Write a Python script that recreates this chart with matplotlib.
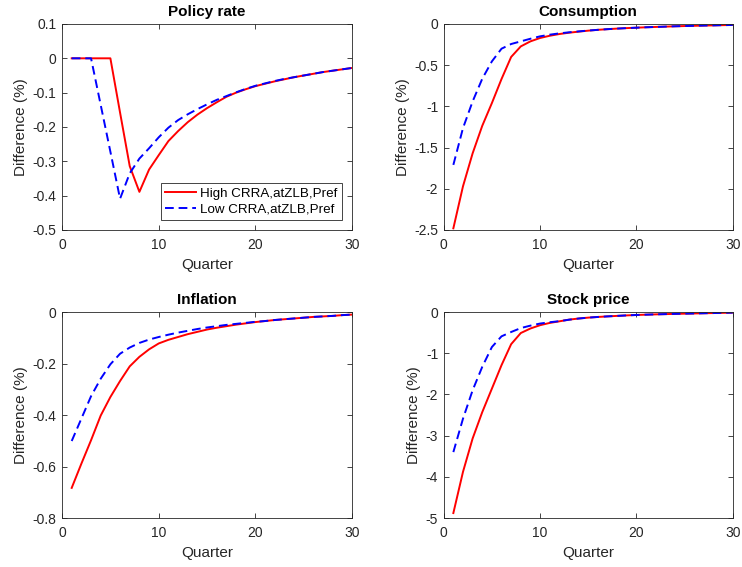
import matplotlib
matplotlib.use('Agg')
import matplotlib.pyplot as plt

plt.rcParams['font.family'] = ['Liberation Sans', 'DejaVu Sans']

## Quarters
quarters = list(range(1, 31))

## Policy rate
rate_high = [0, 0, 0, 0, 0, -0.158, -0.314, -0.389, -0.324, -0.282,
             -0.241, -0.212, -0.186, -0.164, -0.145, -0.128, -0.112, -0.100, -0.090, -0.081,
             -0.074, -0.067, -0.061, -0.055, -0.050, -0.045, -0.040, -0.036, -0.032, -0.028]
rate_low = [0, 0, 0, -0.136, -0.272, -0.409, -0.335, -0.292, -0.262, -0.230,
            -0.202, -0.180, -0.163, -0.148, -0.134, -0.121, -0.110, -0.099, -0.089, -0.080,
            -0.073, -0.066, -0.060, -0.055, -0.050, -0.045, -0.040, -0.036, -0.032, -0.028]

## Consumption
cons_high = [-2.48, -1.97, -1.57, -1.236, -0.96, -0.668, -0.40, -0.272, -0.211, -0.170,
             -0.143, -0.122, -0.106, -0.093, -0.081, -0.071, -0.063, -0.056, -0.050, -0.045,
             -0.040, -0.036, -0.032, -0.028, -0.025, -0.022, -0.019, -0.017, -0.014, -0.012]
cons_low = [-1.71, -1.264, -0.94, -0.665, -0.454, -0.300, -0.243, -0.211, -0.179, -0.150,
            -0.130, -0.114, -0.101, -0.090, -0.080, -0.071, -0.063, -0.056, -0.050, -0.045,
            -0.040, -0.036, -0.032, -0.028, -0.025, -0.022, -0.019, -0.017, -0.014, -0.012]

## Inflation
infl_high = [-0.683, -0.589, -0.498, -0.402, -0.330, -0.268, -0.211, -0.174, -0.145, -0.122,
             -0.108, -0.097, -0.086, -0.077, -0.068, -0.061, -0.055, -0.049, -0.044, -0.039,
             -0.035, -0.031, -0.028, -0.025, -0.022, -0.019, -0.017, -0.015, -0.012, -0.010]
infl_low = [-0.501, -0.414, -0.327, -0.259, -0.203, -0.162, -0.138, -0.120, -0.107, -0.097,
            -0.088, -0.080, -0.073, -0.066, -0.060, -0.055, -0.050, -0.046, -0.042, -0.038,
            -0.035, -0.031, -0.028, -0.025, -0.022, -0.019, -0.017, -0.015, -0.012, -0.010]

## Stock price
stock_high = [-4.88, -3.88, -3.07, -2.43, -1.86, -1.29, -0.78, -0.51, -0.40, -0.32,
              -0.265, -0.226, -0.185, -0.158, -0.136, -0.120, -0.106, -0.094, -0.082, -0.072,
              -0.064, -0.057, -0.051, -0.045, -0.040, -0.035, -0.030, -0.025, -0.020, -0.015]
stock_low = [-3.40, -2.59, -1.90, -1.33, -0.85, -0.59, -0.485, -0.39, -0.33, -0.28,
             -0.248, -0.222, -0.187, -0.158, -0.136, -0.120, -0.106, -0.094, -0.082, -0.072,
             -0.064, -0.057, -0.051, -0.045, -0.040, -0.035, -0.030, -0.025, -0.020, -0.015]

titles = ['Policy rate', 'Consumption', 'Inflation', 'Stock price']
highs = [rate_high, cons_high, infl_high, stock_high]
lows = [rate_low, cons_low, infl_low, stock_low]
ylims = [(-0.5, 0.1), (-2.5, 0), (-0.8, 0), (-5, 0)]
yticks = [[-0.5, -0.4, -0.3, -0.2, -0.1, 0, 0.1],
          [-2.5, -2, -1.5, -1, -0.5, 0],
          [-0.8, -0.6, -0.4, -0.2, 0],
          [-5, -4, -3, -2, -1, 0]]
ytick_labels = [['-0.5', '-0.4', '-0.3', '-0.2', '-0.1', '0', '0.1'],
                ['-2.5', '-2', '-1.5', '-1', '-0.5', '0'],
                ['-0.8', '-0.6', '-0.4', '-0.2', '0'],
                ['-5', '-4', '-3', '-2', '-1', '0']]

## axes boxes [left, bottom, width, height] in figure fractions
positions = [[0.0836, 0.5944, 0.391, 0.3633],
             [0.598, 0.5944, 0.3895, 0.3633],
             [0.0836, 0.0864, 0.391, 0.3633],
             [0.598, 0.0864, 0.3895, 0.3633]]

fig = plt.figure(figsize=(7.42, 5.67), dpi=100)
grey = '#262626'

for ii in range(4):
    ax = fig.add_axes(positions[ii])
    ax.plot(quarters, highs[ii], color='red', lw=1.4, label='High CRRA,atZLB,Pref')
    ax.plot(quarters, lows[ii], color='blue', lw=1.4, ls=(0, (4.5, 2.5)),
            label='Low CRRA,atZLB,Pref')
    ax.set_xlim(0, 30)
    ax.set_ylim(*ylims[ii])
    ax.set_xticks([0, 10, 20, 30])
    ax.set_yticks(yticks[ii])
    ax.set_yticklabels(ytick_labels[ii])
    ax.tick_params(direction='in', length=3.5, width=0.6, top=True, right=True,
                   labelsize=10, colors=grey)
    ax.tick_params(axis='x', pad=6)
    ax.tick_params(axis='y', pad=4)
    for sp in ax.spines.values():
        sp.set_color(grey)
        sp.set_linewidth(0.6)
    ax.set_title(titles[ii], fontsize=11, fontweight='bold', pad=6)
    ax.set_xlabel('Quarter', fontsize=11, color=grey, labelpad=4)
    ax.set_ylabel('Difference (%)', fontsize=11, color=grey, labelpad=3)
    if ii == 0:
        leg = ax.legend(loc='lower right', fontsize=9.6, fancybox=False, framealpha=1,
                        edgecolor=grey, handlelength=2.3, borderpad=0.35,
                        labelspacing=0.25, handletextpad=0.3, borderaxespad=0.75)
        leg.get_frame().set_linewidth(0.6)

fig.savefig('out.png', dpi=100)
